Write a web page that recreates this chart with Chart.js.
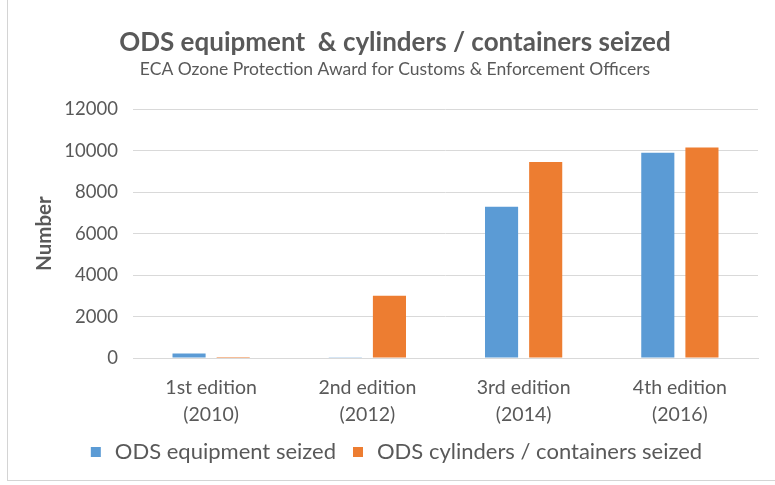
<!DOCTYPE html>
<html>
<head>
<meta charset="utf-8">
<script src="https://cdn.jsdelivr.net/npm/chart.js@4"></script>
<style>
  html, body { margin: 0; padding: 0; background: #fff; }
  #wrap { position: relative; width: 775px; height: 485px; }
  #frame {
    position: absolute; left: 7px; top: 0; width: 768px; height: 480px;
    border-left: 1px solid #d4d4d4; border-bottom: 1px solid #d4d4d4;
    pointer-events: none;
  }
  canvas { position: absolute; left: 0; top: 0; }
</style>
</head>
<body>
<div id="wrap">
  <canvas id="chart" width="775" height="485"></canvas>
  <div id="frame"></div>
</div>
<script>
const categories = [
  ['1st edition', '(2010)'],
  ['2nd edition', '(2012)'],
  ['3rd edition', '(2014)'],
  ['4th edition', '(2016)'],
];
const equipmentSeized = [220, 40, 7300, 9900];
const cylindersSeized = [50, 3000, 9450, 10150];
const yTicks = [0, 2000, 4000, 6000, 8000, 10000, 12000];

const FONT = 'Lato, "Open Sans", sans-serif';
const TEXT = '#595959';
const BLUE = '#5B9BD5';
const ORANGE = '#ED7D31';

// ── Chart ─────────────────────────────────────────────────────────────────────

new Chart(document.getElementById('chart').getContext('2d'), {
  type: 'bar',
  data: {
    labels: categories,
    datasets: [
      {
        label: 'ODS equipment seized',
        data: equipmentSeized,
        backgroundColor: BLUE,
        borderWidth: 0,
      },
      {
        label: 'ODS cylinders / containers seized',
        data: cylindersSeized,
        backgroundColor: ORANGE,
        borderWidth: 0,
      },
    ],
  },
  options: {
    responsive: false,
    animation: false,
    categoryPercentage: 0.565,
    barPercentage: 0.75,
    layout: { padding: { left: 32, right: 17, top: 27, bottom: 12 } },
    plugins: {
      title: {
        display: true,
        text: 'ODS equipment  & cylinders / containers seized',
        color: TEXT,
        font: { family: FONT, size: 26, weight: 'bold' },
        padding: { top: 0, bottom: 1 },
      },
      subtitle: {
        display: true,
        text: 'ECA Ozone Protection Award for Customs & Enforcement Officers',
        color: TEXT,
        font: { family: FONT, size: 17.5 },
        padding: { top: 0, bottom: 29 },
      },
      legend: {
        position: 'bottom',
        labels: {
          color: TEXT,
          font: { family: FONT, size: 22 },
          usePointStyle: true,
          pointStyle: 'rect',
          boxWidth: 16,
          boxHeight: 10,
          padding: 14,
        },
      },
      tooltip: { enabled: false },
    },
    scales: {
      x: {
        afterFit: axis => { axis.height = 69; },
        grid: { display: false, drawTicks: false },
        border: { display: true, color: '#d9d9d9' },
        ticks: {
          color: TEXT,
          font: { family: FONT, size: 19.5, lineHeight: 1.35 },
          maxRotation: 0,
          padding: 17,
        },
      },
      y: {
        min: 0,
        max: 12000,
        afterBuildTicks: axis => { axis.ticks = yTicks.map(v => ({ value: v })); },
        afterFit: axis => { axis.width = 101; },
        grid: { color: '#d9d9d9', drawTicks: false },
        border: { display: false },
        ticks: {
          color: TEXT,
          font: { family: FONT, size: 18.5 },
          padding: 15,
          callback: v => `${v}`,
        },
        title: {
          display: true,
          text: 'Number',
          color: TEXT,
          font: { family: FONT, size: 20.5, weight: 'bold' },
          padding: { top: 0, bottom: 0 },
        },
      },
    },
  },
});
</script>
</body>
</html>
